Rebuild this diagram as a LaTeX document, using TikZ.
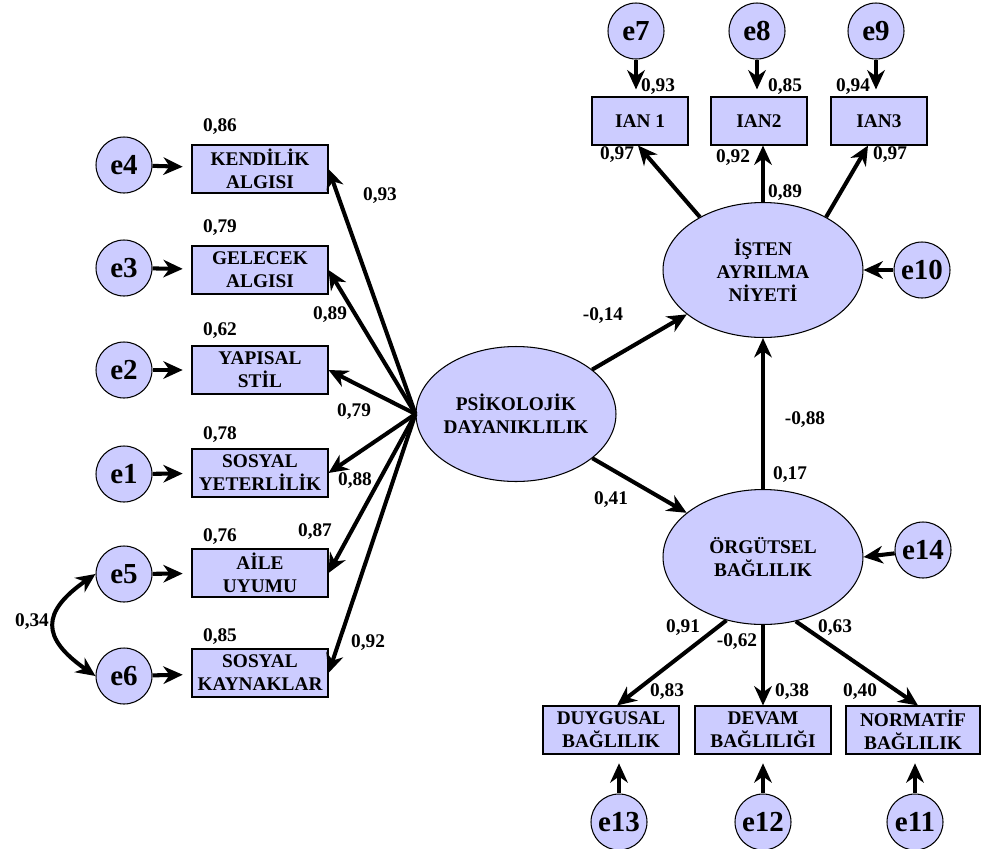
\documentclass[tikz,border=0pt]{standalone}
\usepackage{fontspec}
\setmainfont{Liberation Serif}
\usetikzlibrary{shapes.geometric,arrows.meta}
\definecolor{lila}{HTML}{CCCCFF}

\begin{document}
\begin{tikzpicture}[x=0.02cm,y=-0.02cm,
	obs/.style={draw,fill=lila,line width=0.6pt,minimum width=2.72cm,minimum height=0.96cm,inner sep=0pt,align=center,font=\bfseries\fontsize{11}{13}\selectfont},
	lat/.style={draw,fill=lila,ellipse,line width=0.6pt,minimum width=4cm,minimum height=2.7cm,inner sep=0pt},
	lattxt/.style={align=center,inner sep=0pt,font=\bfseries\fontsize{11}{13}\selectfont},
	err/.style={draw,fill=lila,circle,line width=0.6pt,minimum size=1.12cm,inner sep=0pt,font=\bfseries\fontsize{16.5}{18}\selectfont},
	arr/.style={line width=2.3pt,-{Stealth[length=11pt,width=10pt,inset=3.5pt]}},
	cov/.style={line width=2.3pt,{Stealth[length=11pt,width=10pt,inset=3.5pt]}-{Stealth[length=11pt,width=10pt,inset=3.5pt]}},
	val/.style={inner sep=0pt,font=\bfseries\fontsize{11}{13}\selectfont}]
	\useasboundingbox (0,0) rectangle (981,849);

	\node[obs] (kend) at (260,169) {KENDİLİK\\ALGISI};
	\node[obs] (gel) at (260,270) {GELECEK\\ALGISI};
	\node[obs] (yap) at (260,370) {YAPISAL\\STİL};
	\node[obs] (yet) at (260,473) {SOSYAL\\YETERLİLİK};
	\node[obs] (aile) at (260,573) {AİLE\\UYUMU};
	\node[obs] (kay) at (260,673) {SOSYAL\\KAYNAKLAR};

	\node[err] (e4) at (124,165) {e4};
	\node[err] (e3) at (124,268) {e3};
	\node[err] (e2) at (124,370) {e2};
	\node[err] (e1) at (124,474) {e1};
	\node[err] (e5) at (124,574) {e5};
	\node[err] (e6) at (124,676) {e6};

	\node[obs,minimum width=1.92cm] (ian1) at (640,121) {IAN 1};
	\node[obs,minimum width=1.92cm] (ian2) at (759,121) {IAN2};
	\node[obs,minimum width=1.92cm] (ian3) at (879,121) {IAN3};
	\node[err] (e7) at (636,31) {e7};
	\node[err] (e8) at (757,31) {e8};
	\node[err] (e9) at (876,31) {e9};

	\node[obs] (duy) at (611,730) {DUYGUSAL\\BAĞLILIK};
	\node[obs] (dev) at (763,730) {DEVAM\\BAĞLILIĞI};
	\node[obs,minimum width=2.68cm] (norm) at (913,730) {NORMATİF\\BAĞLILIK};
	\node[err] (e13) at (619,822) {e13};
	\node[err] (e12) at (763,822) {e12};
	\node[err] (e11) at (915,822) {e11};

	\node[lat] (psi) at (516,414) {};
	\node[lattxt] (psitxt) at (psi) {PSİKOLOJİK\\DAYANIKLILIK};
	\node[lat] (isten) at (763,270) {};
	\node[lattxt] (istentxt) at (isten) {İŞTEN\\AYRILMA\\NİYETİ};
	\node[lat] (org) at (763,557) {};
	\node[lattxt] (orgtxt) at (org) {ÖRGÜTSEL\\BAĞLILIK};
	\node[err] (e10) at (922,270) {e10};
	\node[err] (e14) at (923,550) {e14};

	\draw[arr,shorten >=5pt] (e4) -- (kend);
	\draw[arr,shorten >=5pt] (e3) -- (gel);
	\draw[arr,shorten >=5pt] (e2) -- (yap);
	\draw[arr,shorten >=5pt] (e1) -- (yet);
	\draw[arr,shorten >=5pt] (e5) -- (aile);
	\draw[arr,shorten >=5pt] (e6) -- (kay);
	\draw[cov] (e5.west) .. controls (41,612) and (41,638) .. (e6.west);

	\draw[arr] (psi.west) -- (kend.east);
	\draw[arr] (psi.west) -- (gel.east);
	\draw[arr] (psi.west) -- (yap.east);
	\draw[arr] (psi.west) -- (yet.east);
	\draw[arr] (psi.west) -- (aile.east);
	\draw[arr] (psi.west) -- (kay.east);

	\draw[arr,shorten >=4pt] (e7) -- (e7 |- ian1.north);
	\draw[arr,shorten >=4pt] (e8) -- (e8 |- ian2.north);
	\draw[arr,shorten >=4pt] (e9) -- (e9 |- ian3.north);
	\draw[arr] (isten.140) -- ([xshift=-0.04cm]ian1.south);
	\draw[arr] (isten.north) -- (isten.north |- ian2.south);
	\draw[arr] (isten.40) -- ([xshift=-0.22cm]ian3.south);
	\draw[arr] (e10) -- (isten.east);

	\draw[arr] (psi) -- (isten);
	\draw[arr] (psi) -- (org);
	\draw[arr] (org.north) -- (isten.south);
	\draw[arr] (e14) -- (org.east);

	\draw[arr] (org.240) -- ([xshift=0.12cm]duy.north);
	\draw[arr] (org.south) -- (dev.north);
	\draw[arr] (org.297) -- ([xshift=0.1cm]norm.north);
	\draw[arr,shorten >=5pt] (e13) -- (e13 |- duy.south);
	\draw[arr,shorten >=5pt] (e12) -- (e12 |- dev.south);
	\draw[arr,shorten >=5pt] (e11) -- (e11 |- norm.south);

	\node[val] (r86) at (220,127) {0,86};
	\node[val] (r79) at (220,228) {0,79};
	\node[val] (r62) at (220,331) {0,62};
	\node[val] (r78) at (220,435) {0,78};
	\node[val] (r76) at (220,537) {0,76};
	\node[val] (r85) at (220,637) {0,85};
	\node[val] (l93) at (380,196) {0,93};
	\node[val] (l89) at (330,315) {0,89};
	\node[val] (l79) at (354,412) {0,79};
	\node[val] (l88) at (355,481) {0,88};
	\node[val] (l87) at (315,532) {0,87};
	\node[val] (l92) at (368,643) {0,92};
	\node[val] (c34) at (32,622) {0,34};

	\node[val] (r93) at (658,87) {0,93};
	\node[val] (r85b) at (785,87) {0,85};
	\node[val] (r94) at (853,87) {0,94};
	\node[val] (l97a) at (617,155) {0,97};
	\node[val] (l92b) at (733,158) {0,92};
	\node[val] (r89) at (785,193) {0,89};
	\node[val] (l97b) at (890,155) {0,97};

	\node[val] (b14) at (603,316) {-0,14};
	\node[val] (b41) at (611,500) {0,41};
	\node[val] (b88) at (805,420) {-0,88};
	\node[val] (r17) at (790,475) {0,17};

	\node[val] (l91) at (683,628) {0,91};
	\node[val] (l62) at (737,642) {-0,62};
	\node[val] (l63) at (835,628) {0,63};
	\node[val] (r83) at (667,692) {0,83};
	\node[val] (r38) at (792,692) {0,38};
	\node[val] (r40) at (860,692) {0,40};
\end{tikzpicture}
\end{document}
